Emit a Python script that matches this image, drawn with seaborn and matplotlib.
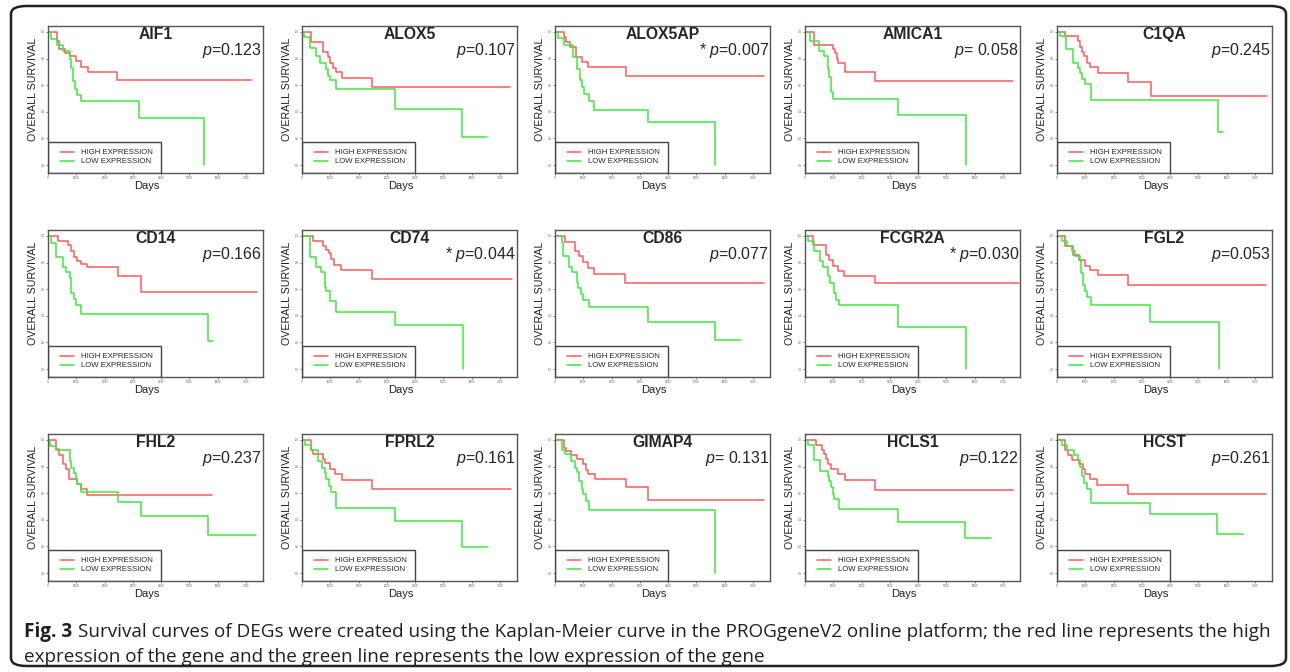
"""
Survival curves (Kaplan-Meier) for 15 DEGs, high vs low expression.
"""

import numpy as np
import pandas as pd
import matplotlib
matplotlib.use('Agg')
import matplotlib.pyplot as plt
import seaborn as sns
from matplotlib.lines import Line2D
from matplotlib.patches import Rectangle, FancyBboxPatch

# ============================================================
# DATA  (days, survival fraction) - step points
# ============================================================

GENES = ['AIF1', 'ALOX5', 'ALOX5AP', 'AMICA1', 'C1QA',
         'CD14', 'CD74', 'CD86', 'FCGR2A', 'FGL2',
         'FHL2', 'FPRL2', 'GIMAP4', 'HCLS1', 'HCST']
P_TEXT = ['=0.123', '=0.107', '=0.007', '= 0.058', '=0.245',
          '=0.166', '=0.044', '=0.077', '=0.030', '=0.053',
          '=0.237', '=0.161', '= 0.131', '=0.122', '=0.261']
SIGNIF = [False, False, True, False, False,
          False, True, False, True, False,
          False, False, False, False, False]

AIF1_HIGH = [(0, 1.0), (320, 0.93), (380, 0.87), (600, 0.84), (760, 0.82), (1000, 0.78),
             (1150, 0.74), (1400, 0.70), (2450, 0.64), (7200, 0.64)]
AIF1_LOW = [(0, 1.0), (120, 0.95), (320, 0.90), (530, 0.86), (760, 0.80), (800, 0.73),
            (880, 0.63), (960, 0.57), (1030, 0.53), (1180, 0.48), (3210, 0.355), (5530, 0.0)]

ALOX5_HIGH = [(0, 1.0), (330, 0.925), (750, 0.85), (920, 0.81), (1000, 0.77), (1080, 0.73),
              (1190, 0.70), (1400, 0.655), (2460, 0.59), (7350, 0.59)]
ALOX5_LOW = [(0, 1.0), (85, 0.96), (300, 0.88), (505, 0.82), (625, 0.77), (840, 0.72),
             (925, 0.67), (985, 0.64), (1190, 0.57), (3300, 0.42), (5640, 0.21), (6530, 0.21)]

ALOX5AP_HIGH = [(0, 1.0), (330, 0.96), (390, 0.925), (545, 0.887), (750, 0.81), (970, 0.773),
                (1170, 0.735), (2500, 0.67), (7400, 0.67)]
ALOX5AP_LOW = [(0, 1.0), (110, 0.955), (330, 0.90), (630, 0.81), (790, 0.725), (870, 0.64),
               (955, 0.59), (1030, 0.535), (1200, 0.48), (1390, 0.41), (3290, 0.325), (5670, 0.0)]

AMICA1_HIGH = [(0, 1.0), (310, 0.90), (1000, 0.87), (1060, 0.84), (1120, 0.80), (1180, 0.77),
               (1400, 0.70), (2480, 0.63), (7350, 0.63)]
AMICA1_LOW = [(0, 1.0), (160, 0.93), (480, 0.86), (675, 0.82), (800, 0.72), (850, 0.66),
              (905, 0.55), (1000, 0.50), (3290, 0.375), (5680, 0.0)]

C1QA_HIGH = [(0, 1.0), (300, 0.97), (755, 0.93), (815, 0.89), (900, 0.85), (960, 0.82),
             (1055, 0.77), (1175, 0.735), (1440, 0.69), (2520, 0.625), (3325, 0.52), (7440, 0.52)]
C1QA_LOW = [(0, 1.0), (120, 0.97), (335, 0.87), (550, 0.77), (755, 0.73), (815, 0.69),
            (875, 0.65), (985, 0.61), (1200, 0.49), (5700, 0.25), (5860, 0.25)]

CD14_HIGH = [(0, 1.0), (355, 0.966), (710, 0.93), (825, 0.89), (910, 0.845), (1030, 0.81),
             (1160, 0.79), (1390, 0.765), (2480, 0.70), (3305, 0.58), (7380, 0.58)]
CD14_LOW = [(0, 1.0), (120, 0.95), (270, 0.845), (530, 0.77), (650, 0.73), (770, 0.686),
            (825, 0.57), (910, 0.527), (1000, 0.478), (1180, 0.417), (5670, 0.208), (5820, 0.208)]

CD74_HIGH = [(0, 1.0), (390, 0.966), (745, 0.926), (860, 0.895), (955, 0.87), (1040, 0.826),
             (1130, 0.78), (1390, 0.743), (2480, 0.68), (7410, 0.68)]
CD74_LOW = [(0, 1.0), (270, 0.845), (510, 0.77), (660, 0.73), (800, 0.62), (860, 0.585),
            (980, 0.51), (1190, 0.43), (3305, 0.33), (5700, 0.0)]

CD86_HIGH = [(0, 1.0), (355, 0.958), (710, 0.885), (865, 0.848), (980, 0.804), (1160, 0.762),
             (1385, 0.718), (2460, 0.647), (7400, 0.647)]
CD86_LOW = [(0, 1.0), (240, 0.958), (300, 0.848), (510, 0.77), (615, 0.73), (770, 0.652),
            (830, 0.608), (925, 0.566), (1005, 0.522), (1185, 0.463), (3290, 0.35), (5660, 0.216),
            (6590, 0.216)]

FCGR2A_HIGH = [(0, 1.0), (270, 0.93), (740, 0.857), (860, 0.82), (975, 0.776), (1175, 0.739),
               (1390, 0.697), (2470, 0.643), (7550, 0.643)]
FCGR2A_LOW = [(0, 1.0), (95, 0.965), (330, 0.885), (540, 0.81), (625, 0.77), (800, 0.70),
              (895, 0.65), (1010, 0.57), (1100, 0.52), (1190, 0.48), (3270, 0.315), (5680, 0.0)]

FGL2_HIGH = [(0, 1.0), (295, 0.926), (555, 0.857), (765, 0.82), (1000, 0.778), (1175, 0.741),
             (1450, 0.704), (2505, 0.635), (7390, 0.635)]
FGL2_LOW = [(0, 1.0), (175, 0.963), (355, 0.926), (530, 0.889), (650, 0.852), (800, 0.815),
            (850, 0.724), (920, 0.635), (1000, 0.586), (1060, 0.544), (1210, 0.478), (3290, 0.355),
            (5710, 0.0)]

FHL2_HIGH = [(0, 1.0), (295, 0.93), (390, 0.89), (530, 0.823), (650, 0.779), (740, 0.71),
             (1025, 0.668), (1175, 0.631), (1390, 0.587), (5800, 0.587)]
FHL2_LOW = [(0, 1.0), (80, 0.956), (295, 0.926), (765, 0.84), (825, 0.79), (905, 0.754),
            (975, 0.71), (1035, 0.668), (1175, 0.612), (2470, 0.533), (3295, 0.425), (5650, 0.283),
            (7350, 0.283)]

FPRL2_HIGH = [(0, 1.0), (305, 0.926), (390, 0.895), (740, 0.857), (825, 0.828), (975, 0.779),
              (1175, 0.742), (1410, 0.698), (2480, 0.631), (7390, 0.631)]
FPRL2_LOW = [(0, 1.0), (120, 0.96), (330, 0.926), (565, 0.84), (705, 0.79), (800, 0.75),
             (860, 0.705), (955, 0.651), (1035, 0.607), (1190, 0.49), (3305, 0.39), (5660, 0.197),
             (6560, 0.197)]

GIMAP4_HIGH = [(0, 1.0), (320, 0.94), (375, 0.914), (555, 0.889), (790, 0.857), (1000, 0.82),
               (1080, 0.778), (1175, 0.747), (1410, 0.705), (2495, 0.643), (3295, 0.55), (7380, 0.55)]
GIMAP4_LOW = [(0, 1.0), (260, 0.926), (350, 0.894), (555, 0.84), (705, 0.79), (790, 0.76),
              (850, 0.693), (940, 0.631), (1000, 0.594), (1080, 0.54), (1200, 0.477), (5670, 0.0)]

HCLS1_HIGH = [(0, 1.0), (390, 0.963), (600, 0.926), (680, 0.897), (740, 0.857), (800, 0.816),
              (920, 0.779), (1150, 0.742), (1410, 0.698), (2480, 0.627), (7360, 0.627)]
HCLS1_LOW = [(0, 1.0), (95, 0.963), (305, 0.848), (540, 0.77), (800, 0.73), (860, 0.693),
             (920, 0.644), (975, 0.595), (1035, 0.553), (1190, 0.484), (3295, 0.386), (5660, 0.263),
             (6560, 0.263)]

HCST_HIGH = [(0, 1.0), (295, 0.926), (390, 0.889), (530, 0.853), (765, 0.816), (920, 0.779),
             (1000, 0.742), (1175, 0.705), (1410, 0.663), (2495, 0.595), (7390, 0.595)]
HCST_LOW = [(0, 1.0), (175, 0.963), (355, 0.926), (590, 0.889), (730, 0.853), (825, 0.80),
            (880, 0.73), (940, 0.68), (1060, 0.63), (1200, 0.528), (3295, 0.44), (5670, 0.29),
            (6560, 0.29)]

CURVES = {
    'AIF1': (AIF1_HIGH, AIF1_LOW), 'ALOX5': (ALOX5_HIGH, ALOX5_LOW),
    'ALOX5AP': (ALOX5AP_HIGH, ALOX5AP_LOW), 'AMICA1': (AMICA1_HIGH, AMICA1_LOW),
    'C1QA': (C1QA_HIGH, C1QA_LOW), 'CD14': (CD14_HIGH, CD14_LOW),
    'CD74': (CD74_HIGH, CD74_LOW), 'CD86': (CD86_HIGH, CD86_LOW),
    'FCGR2A': (FCGR2A_HIGH, FCGR2A_LOW), 'FGL2': (FGL2_HIGH, FGL2_LOW),
    'FHL2': (FHL2_HIGH, FHL2_LOW), 'FPRL2': (FPRL2_HIGH, FPRL2_LOW),
    'GIMAP4': (GIMAP4_HIGH, GIMAP4_LOW), 'HCLS1': (HCLS1_HIGH, HCLS1_LOW),
    'HCST': (HCST_HIGH, HCST_LOW),
}

X_TICKS = [0, 1000, 2000, 3000, 4000, 5000, 6000, 7000]
Y_TICKS = [0.0, 0.2, 0.4, 0.6, 0.8, 1.0]

CAPTION_BOLD = 'Fig. 3'
CAPTION_1 = ('Survival curves of DEGs were created using the Kaplan-Meier curve in the '
             'PROGgeneV2 online platform; the red line represents the high')
CAPTION_2 = 'expression of the gene and the green line represents the low expression of the gene'

# long table for seaborn
rows = []
for g in GENES:
    high, low = CURVES[g]
    for grp, pts in (('HIGH EXPRESSION', high), ('LOW EXPRESSION', low)):
        for t, s in pts:
            rows.append((g, grp, t, s))
df = pd.DataFrame(rows, columns=['gene', 'group', 'days', 'survival'])

# ============================================================
# STYLE
# ============================================================

sns.set_style('white')
plt.rcParams['font.family'] = ['Liberation Sans', 'DejaVu Sans']
plt.rcParams['mathtext.fontset'] = 'custom'
plt.rcParams['mathtext.it'] = 'Liberation Sans:italic'
plt.rcParams['mathtext.rm'] = 'Liberation Sans'

RED = '#ff5a5a'
GREEN = '#3fe83f'
palette = {'HIGH EXPRESSION': RED, 'LOW EXPRESSION': GREEN}

W, H = 1290, 672
fig = plt.figure(figsize=(W / 100, H / 100), dpi=100)

# outer rounded frame
fig.patches.append(FancyBboxPatch((11 / W, 6 / H), 1275 / W, 660 / H,
                                  boxstyle='round,pad=0,rounding_size=0.012',
                                  transform=fig.transFigure, fill=False,
                                  edgecolor='#222222', lw=1.8))

lefts = [48, 302, 555, 805, 1057]
tops = [26, 230, 434]
ax_w, ax_h = 215, 147

for i, gene in enumerate(GENES):
    r, c = divmod(i, 5)
    x0 = lefts[c] / W
    y0 = 1 - (tops[r] + ax_h) / H
    ax = fig.add_axes([x0, y0, ax_w / W, ax_h / H])
    sub = df[df['gene'] == gene]
    sns.lineplot(data=sub, x='days', y='survival', hue='group', palette=palette,
                 drawstyle='steps-post', estimator=None, sort=False, legend=False,
                 lw=1.1, ax=ax)
    ax.set_xlim(0, 7600)
    ax.set_ylim(-0.06, 1.045)
    ax.set_xticks(X_TICKS)
    ax.set_yticks(Y_TICKS)
    ax.tick_params(labelsize=2, length=1.5, width=0.5, pad=1, colors='#555555',
                   left=True, bottom=True)
    for sp in ax.spines.values():
        sp.set_color('#555555')
        sp.set_linewidth(1.0)
    ax.set_xlabel('Days', fontsize=8, color='#222222')
    ax.set_ylabel('OVERALL SURVIVAL', fontsize=7.7, color='#222222')
    ax.xaxis.set_label_coords(0.46, -0.055)
    ax.yaxis.set_label_coords(-0.047, 0.57)

    ax.text(0.5, 0.94, gene, transform=ax.transAxes, ha='center', va='center',
            fontsize=11.3, fontweight='bold')
    star = '* ' if SIGNIF[i] else ''
    ax.text(0.995, 0.835, star + '$p$' + P_TEXT[i], transform=ax.transAxes,
            ha='right', va='center', fontsize=11.5)

    # legend box
    ax.add_patch(Rectangle((0, 0), 0.526, 0.21, transform=ax.transAxes, fill=False,
                           edgecolor='#444444', lw=1.0, zorder=5))
    handles = [Line2D([], [], color=RED, lw=1.1), Line2D([], [], color=GREEN, lw=1.1)]
    ax.legend(handles, ['HIGH EXPRESSION', 'LOW EXPRESSION'], loc='upper left',
              bbox_to_anchor=(0.03, 0.2), frameon=False, fontsize=5.6,
              handlelength=1.8, handletextpad=0.9, labelspacing=0.2, borderpad=0.2)

# ============================================================
# CAPTION
# ============================================================

cap_font = ['Open Sans', 'Liberation Sans']
renderer = fig.canvas.get_renderer()
t_bold = fig.text(24 / W, 1 - 632 / H, CAPTION_BOLD, fontsize=12, fontweight='bold',
                  va='center', ha='left', color='#231f20', family=cap_font)
bb = t_bold.get_window_extent(renderer=renderer)
t1 = fig.text((bb.x1 + 5) / W, 1 - 632 / H, CAPTION_1, fontsize=12, va='center', ha='left',
              color='#231f20', family=cap_font)
t2 = fig.text(24 / W, 1 - 657 / H, CAPTION_2, fontsize=12, va='center', ha='left',
              color='#231f20', family=cap_font)

# squeeze caption to the width it has in the figure (line 1 ends near x=1268)
b1 = t1.get_window_extent(renderer=renderer)
scale = (1268 - 24) / (b1.x1 - bb.x0)
for t in (t_bold, t1, t2):
    t.set_fontsize(12 * scale)
bb = t_bold.get_window_extent(renderer=renderer)
t1.set_x((bb.x1 + 5 * scale) / W)

fig.savefig('out.png', dpi=100)
